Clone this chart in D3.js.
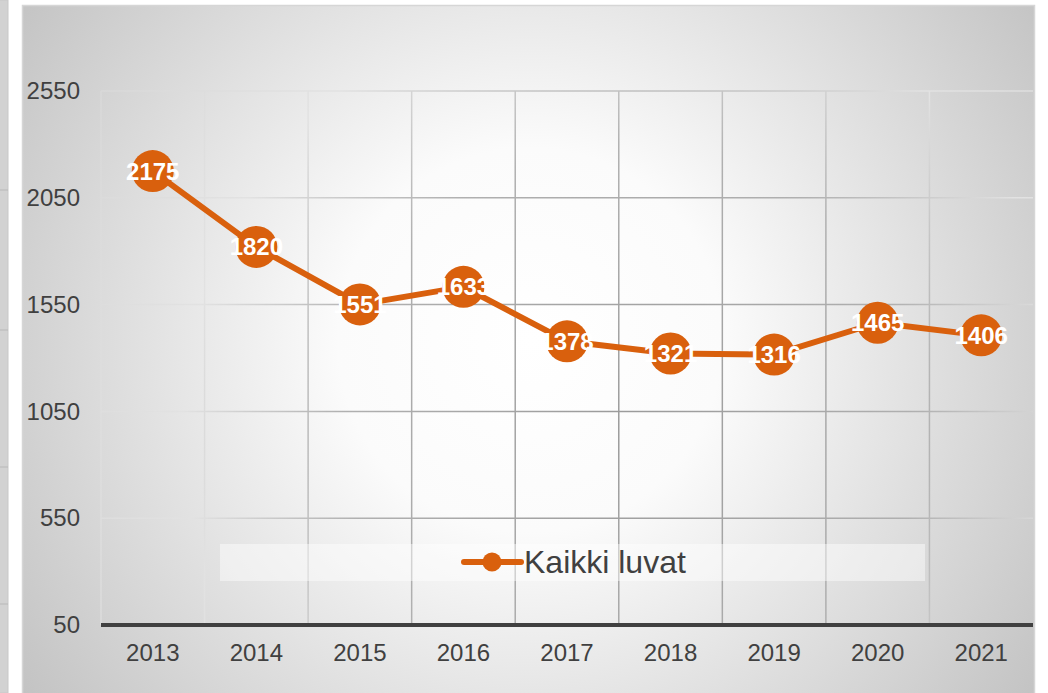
<!DOCTYPE html>
<html>
<head>
<meta charset="utf-8">
<script src="https://cdn.jsdelivr.net/npm/d3@7"></script>
<style>
  html, body { margin: 0; padding: 0; background: #fff; }
  svg { display: block; font-family: "Liberation Sans", Arial, sans-serif; }
</style>
</head>
<body>
<div id="chart"></div>
<script>
// chart data
const years = ["2013", "2014", "2015", "2016", "2017", "2018", "2019", "2020", "2021"];
const permits = [2175, 1820, 1551, 1633, 1378, 1321, 1316, 1465, 1406];
const yTicks = [50, 550, 1050, 1550, 2050, 2550];
const seriesName = "Kaikki luvat";

const W = 1048, H = 693;
const margin = {top: 91, right: 15, bottom: 68, left: 101};
const width = W - margin.left - margin.right,
      height = H - margin.top - margin.bottom;
const orange = "#d9600d", ink = "#404040";

const svg = d3.select("#chart").append("svg")
  .attr("width", W)
  .attr("height", H);

const defs = svg.append("defs");

// panel background: white centre fading to grey at the edges
const bg = defs.append("radialGradient")
  .attr("id", "bgGrad")
  .attr("gradientUnits", "userSpaceOnUse")
  .attr("cx", 530).attr("cy", 340).attr("r", 640);
bg.append("stop").attr("offset", "0%").attr("stop-color", "#ffffff");
bg.append("stop").attr("offset", "30%").attr("stop-color", "#fbfbfb");
bg.append("stop").attr("offset", "100%").attr("stop-color", "#c0c0c0");

// grid lines are darker in the middle, lighter towards the edges
const gg = defs.append("radialGradient")
  .attr("id", "gridGrad")
  .attr("gradientUnits", "userSpaceOnUse")
  .attr("cx", 530).attr("cy", 340).attr("r", 640);
gg.append("stop").attr("offset", "0%").attr("stop-color", "#9a9a9a");
gg.append("stop").attr("offset", "45%").attr("stop-color", "#b0b0b0");
gg.append("stop").attr("offset", "70%").attr("stop-color", "#e2e2e2");
gg.append("stop").attr("offset", "100%").attr("stop-color", "#d8d8d8");

// neighbouring panel sliver on the left
svg.append("rect")
  .attr("x", -10).attr("y", 0).attr("width", 18).attr("height", H)
  .attr("fill", "#d2d2d2").attr("stroke", "#c8c8c8");
[190, 330, 467, 604].forEach(yy => {
  svg.append("line")
    .attr("x1", 0).attr("x2", 8).attr("y1", yy).attr("y2", yy)
    .attr("stroke", "#b8b8b8");
});

// main panel
svg.append("rect")
  .attr("x", 22.5).attr("y", 5.5).attr("width", 1012).attr("height", H + 10)
  .attr("fill", "url(#bgGrad)")
  .attr("stroke", "#d6d6d6").attr("stroke-width", 1.5);

const g = svg.append("g")
  .attr("transform", "translate(" + margin.left + "," + margin.top + ")");

const x = d3.scaleBand()
  .domain(years)
  .range([0, width]);

const y = d3.scaleLinear()
  .domain([50, 2550])
  .range([height, 0]);

// horizontal grid
g.append("g")
  .selectAll("line")
  .data(yTicks.slice(1))
  .join("line")
  .attr("x1", 0).attr("x2", width)
  .attr("y1", d => y(d)).attr("y2", d => y(d))
  .attr("stroke", "url(#gridGrad)")
  .attr("stroke-width", 1.5);

// vertical grid at category boundaries
g.append("g")
  .selectAll("line")
  .data(years)
  .join("line")
  .attr("x1", d => x(d)).attr("x2", d => x(d))
  .attr("y1", 0).attr("y2", height)
  .attr("stroke", "url(#gridGrad)")
  .attr("stroke-width", 1.5);

// y axis labels
const yAxis = d3.axisLeft(y)
  .tickValues(yTicks)
  .tickFormat(d3.format("d"))
  .tickSize(0)
  .tickPadding(21);
g.append("g")
  .attr("class", "y axis")
  .call(yAxis)
  .call(s => s.select(".domain").remove())
  .selectAll("text")
  .attr("fill", ink)
  .style("font-size", "24px")
  .style("font-family", "'Liberation Sans', Arial, sans-serif");

// x axis
const xAxis = d3.axisBottom(x)
  .tickSize(0)
  .tickPadding(19);
g.append("g")
  .attr("class", "x axis")
  .attr("transform", "translate(0," + height + ")")
  .call(xAxis)
  .call(s => s.select(".domain").remove())
  .selectAll("text")
  .attr("fill", ink)
  .style("font-size", "24px")
  .style("font-family", "'Liberation Sans', Arial, sans-serif");

g.append("line")
  .attr("x1", 0).attr("x2", width)
  .attr("y1", height).attr("y2", height)
  .attr("stroke", ink)
  .attr("stroke-width", 4);

// legend box
const legend = svg.append("g");
legend.append("rect")
  .attr("x", 220).attr("y", 544).attr("width", 705).attr("height", 37)
  .attr("fill", "#ffffff").attr("fill-opacity", 0.45);
legend.append("line")
  .attr("x1", 464).attr("x2", 521).attr("y1", 562).attr("y2", 562)
  .attr("stroke", orange).attr("stroke-width", 6).attr("stroke-linecap", "round");
legend.append("circle")
  .attr("cx", 492).attr("cy", 562).attr("r", 9.5)
  .attr("fill", orange);
legend.append("text")
  .attr("x", 524).attr("y", 573)
  .attr("fill", ink)
  .style("font-size", "32px")
  .text(seriesName);

// series line
const data = years.map((d, i) => ({year: d, value: permits[i]}));
const cx = d => x(d.year) + x.bandwidth() / 2;

const line = d3.line()
  .x(cx)
  .y(d => y(d.value));

g.append("path")
  .datum(data)
  .attr("fill", "none")
  .attr("stroke", orange)
  .attr("stroke-width", 6)
  .attr("stroke-linejoin", "round")
  .attr("d", line);

g.selectAll("circle.pt")
  .data(data)
  .join("circle")
  .attr("class", "pt")
  .attr("cx", cx)
  .attr("cy", d => y(d.value))
  .attr("r", 21)
  .attr("fill", orange);

g.selectAll("text.lbl")
  .data(data)
  .join("text")
  .attr("class", "lbl")
  .attr("x", cx)
  .attr("y", d => y(d.value))
  .attr("dy", "0.35em")
  .attr("text-anchor", "middle")
  .attr("fill", "#ffffff")
  .style("font-size", "24px")
  .style("font-weight", "bold")
  .text(d => d.value);
</script>
</body>
</html>
